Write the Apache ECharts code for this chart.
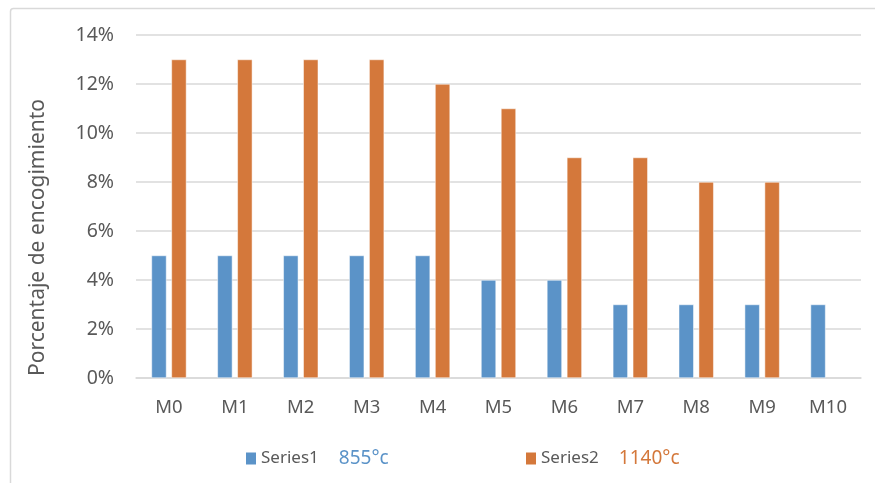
<!DOCTYPE html>
<html>
<head>
<meta charset="utf-8">
<script src="https://cdn.jsdelivr.net/npm/echarts@6/dist/echarts.min.js"></script>
<style>
  html, body { margin: 0; padding: 0; background: #fff; }
  #chart { width: 875px; height: 483px; }
</style>
</head>
<body>
<div id="chart"></div>
<script>
// Shrinkage percentage per sample, at two firing temperatures
const categories = ['M0', 'M1', 'M2', 'M3', 'M4', 'M5', 'M6', 'M7', 'M8', 'M9', 'M10'];
const series1Values = [5, 5, 5, 5, 5, 4, 4, 3, 3, 3, 3];
const series2Values = [13, 13, 13, 13, 12, 11, 9, 9, 8, 8, null];
const series1Temp = '855°c';
const series2Temp = '1140°c';
const yTicks = [0, 2, 4, 6, 8, 10, 12, 14];

const blue = '#5B93C8';
const orange = '#D4783B';
const textColor = '#595959';
const font = 'Noto Sans';

const chart = echarts.init(document.getElementById('chart'));

function legendFor(name, left, temp, tempStyle) {
  return {
    data: [name],
    left: left,
    top: 449,
    padding: 0,
    itemWidth: 10,
    itemHeight: 12,
    itemGap: 0,
    icon: 'rect',
    itemStyle: { borderWidth: 0 },
    textStyle: {
      fontFamily: font,
      fontSize: 17,
      color: textColor,
      rich: {
        s: { fontFamily: font, fontSize: 17, color: textColor },
        t: Object.assign({ fontFamily: font, fontSize: 19, padding: [0, 0, 0, 20] }, tempStyle)
      }
    },
    formatter: function (n) { return '{s|' + n + '}{t|' + temp + '}'; }
  };
}

chart.setOption({
  animation: false,
  backgroundColor: '#fff',
  graphic: [{
    type: 'rect',
    shape: { x: 10.5, y: 8.5, width: 900, height: 520, r: 3 },
    style: { fill: 'none', stroke: '#d9d9d9', lineWidth: 1.5 },
    silent: true,
    z: -1
  }],
  grid: { left: 136, right: 14, top: 35, bottom: 105 },
  legend: [
    legendFor('Series1', 246, series1Temp, { color: blue }),
    legendFor('Series2', 526, series2Temp, { color: orange })
  ],
  xAxis: {
    type: 'category',
    data: categories,
    axisLine: { show: true, lineStyle: { color: '#d9d9d9', width: 1.5 } },
    axisTick: { show: false },
    axisLabel: { color: textColor, fontFamily: font, fontSize: 18.5, margin: 20 }
  },
  yAxis: {
    type: 'value',
    min: yTicks[0],
    max: yTicks[yTicks.length - 1],
    interval: 2,
    name: 'Porcentaje de encogimiento',
    nameLocation: 'middle',
    nameGap: 87,
    nameTextStyle: { color: textColor, fontFamily: font, fontSize: 21, padding: [0, 62, 0, 0] },
    axisLine: { show: false },
    axisTick: { show: false },
    splitLine: { lineStyle: { color: '#d9d9d9', width: 1.5 } },
    axisLabel: {
      color: textColor, fontFamily: font, fontSize: 19.5, margin: 22,
      formatter: function (v) { return v + '%'; }
    }
  },
  series: [
    {
      name: 'Series1',
      type: 'bar',
      data: series1Values,
      barWidth: 15,
      barGap: '33%',
      itemStyle: { color: blue, borderColor: '#fff', borderWidth: 0.5 }
    },
    {
      name: 'Series2',
      type: 'bar',
      data: series2Values,
      barWidth: 15,
      itemStyle: { color: orange, borderColor: '#fff', borderWidth: 0.5 }
    }
  ]
});
</script>
</body>
</html>
